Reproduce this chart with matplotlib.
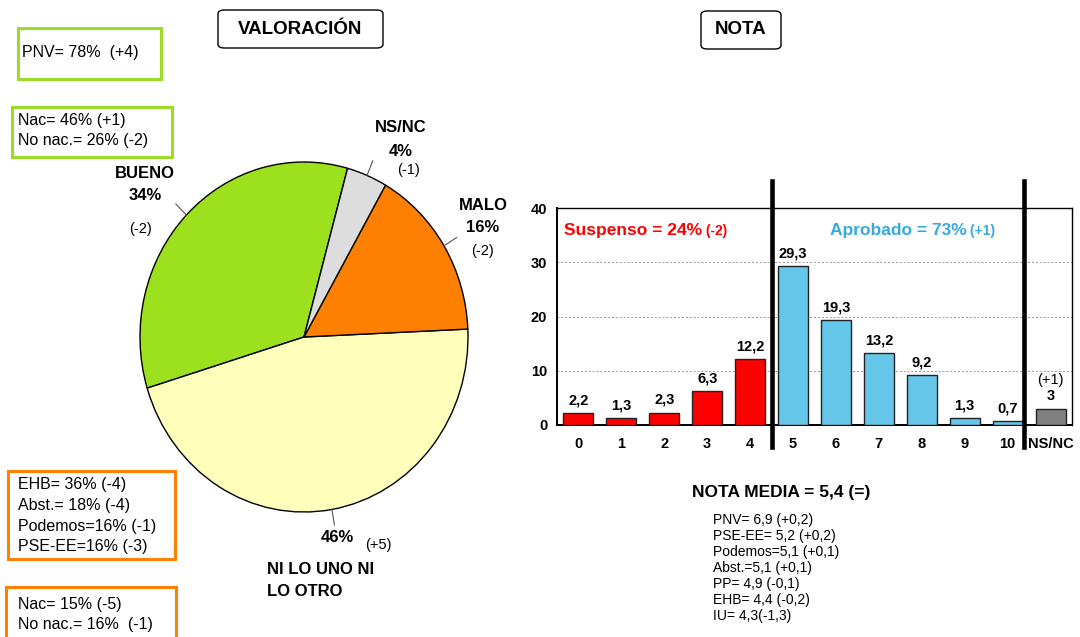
import matplotlib
matplotlib.use("Agg")
import matplotlib.pyplot as plt
from matplotlib.patches import Rectangle, FancyBboxPatch
import numpy as np

plt.rcParams["font.family"] = ["Liberation Sans", "DejaVu Sans"]

W, H = 1080, 637
INK = "#000000"
GREEN_BOX = "#9BDC28"
ORANGE_BOX = "#FF8000"
RED = "#FF0000"
BLUE_BAR = "#66C6EA"
BLUE_TXT = "#36A9DE"
GREY_BAR = "#808080"

# ---------------------------------------------------------------- data
pie_labels = ["BUENO", "NI LO UNO NI\nLO OTRO", "MALO", "NS/NC"]
pie_values = [34, 46, 16, 4]
pie_changes = ["(-2)", "(+5)", "(-2)", "(-1)"]
pie_colors = ["#9DE01E", "#FFFFBB", "#FF8000", "#DDDDDD"]

note_cats = ["0", "1", "2", "3", "4", "5", "6", "7", "8", "9", "10", "NS/NC"]
note_vals = [2.2, 1.3, 2.3, 6.3, 12.2, 29.3, 19.3, 13.2, 9.2, 1.3, 0.7, 3]
nsnc_change = "(+1)"

media_lines = ["PNV= 6,9 (+0,2)", "PSE-EE= 5,2 (+0,2)", "Podemos=5,1 (+0,1)",
               "Abst.=5,1 (+0,1)", "PP= 4,9 (-0,1)", "EHB= 4,4 (-0,2)", "IU= 4,3(-1,3)"]

box_pnv = ["PNV= 78%  (+4)"]
box_good = ["Nac= 46% (+1)", "No nac.= 26% (-2)"]
box_bad_party = ["EHB= 36% (-4)", "Abst.= 18% (-4)", "Podemos=16% (-1)", "PSE-EE=16% (-3)"]
box_bad = ["Nac= 15% (-5)", "No nac.= 16%  (-1)"]


def fx(x):
    return x / W


def fy(y):
    return 1 - y / H


fig = plt.figure(figsize=(W / 100, H / 100), dpi=100)
fig.patch.set_facecolor("white")


def frame(x0, y0, x1, y1, colour, lw=2.2):
    fig.add_artist(Rectangle((fx(x0), fy(y1)), fx(x1 - x0), (y1 - y0) / H,
                             transform=fig.transFigure, fill=False,
                             edgecolor=colour, linewidth=lw))


def title_box(x0, y0, x1, y1, txt):
    fig.add_artist(FancyBboxPatch((fx(x0), fy(y1)), fx(x1 - x0), (y1 - y0) / H,
                                  boxstyle="round,pad=0,rounding_size=0.006",
                                  transform=fig.transFigure, fill=False,
                                  edgecolor=INK, linewidth=1.0))
    fig.text(fx((x0 + x1) / 2), fy((y0 + y1) / 2), txt, fontsize=13.5,
             fontweight="bold", ha="center", va="center", color=INK)


def lines_text(x, y, lines, step, size=11.5):
    for i, s in enumerate(lines):
        fig.text(fx(x), fy(y + i * step), s, fontsize=size, va="center", color=INK)


# ---------------------------------------------------------------- left side boxes
frame(18, 28, 161, 79, GREEN_BOX)
lines_text(22, 53, box_pnv, 21)
frame(12, 107, 172, 157, GREEN_BOX)
lines_text(18, 120, box_good, 21)
frame(8, 471, 175, 559, ORANGE_BOX)
lines_text(18, 485, box_bad_party, 20.5)
frame(6, 587, 176, 660, ORANGE_BOX)
lines_text(18, 604, box_bad, 20.5)

title_box(218, 10, 383, 48, "VALORACIÓN")
title_box(701, 11, 781, 49, "NOTA")

# ---------------------------------------------------------------- pie
axp = fig.add_axes([fx(140), fy(512), fx(468 - 140), (512 - 162) / H])
wedges, _ = axp.pie(pie_values, colors=pie_colors, startangle=74.6, counterclock=True,
                    wedgeprops=dict(edgecolor=INK, linewidth=1.0))
axp.set_xlim(-1.0, 1.0); axp.set_ylim(-1.0, 1.0)
axp.set_aspect("auto"); axp.axis("off")
for w in wedges:
    a = np.deg2rad((w.theta1 + w.theta2) / 2)
    axp.plot([np.cos(a) * 1.0, np.cos(a) * 1.09], [np.sin(a) * 1.0, np.sin(a) * 1.09],
             color="#555555", linewidth=0.8, clip_on=False)

# pie labels: name, percentage, change (pixel positions)
lab_pos = {
    0: dict(name=(145, 173), pct=(145, 195), chg=(140, 229)),
    2: dict(name=(483, 205), pct=(483, 227), chg=(482, 251)),
    3: dict(name=(401, 128), pct=(401, 151), chg=(408, 170)),
}
for i, p in lab_pos.items():
    fig.text(fx(p["name"][0]), fy(p["name"][1]), pie_labels[i], fontsize=12,
             fontweight="bold", ha="center", va="center")
    fig.text(fx(p["pct"][0]), fy(p["pct"][1]), f"{pie_values[i]}%", fontsize=12,
             fontweight="bold", ha="center", va="center")
    fig.text(fx(p["chg"][0]), fy(p["chg"][1]), pie_changes[i], fontsize=10.5,
             ha="center", va="center")
fig.text(fx(337), fy(538), f"{pie_values[1]}%", fontsize=12, fontweight="bold",
         ha="center", va="center")
fig.text(fx(378), fy(545), pie_changes[1], fontsize=10.5, ha="center", va="center")
fig.text(fx(267), fy(569), pie_labels[1].split("\n")[0], fontsize=12,
         fontweight="bold", ha="left", va="center")
fig.text(fx(267), fy(591), pie_labels[1].split("\n")[1], fontsize=12,
         fontweight="bold", ha="left", va="center")

# ---------------------------------------------------------------- bar chart
axb = fig.add_axes([fx(557), fy(425), fx(1072 - 557), 217 / H])
x = np.arange(len(note_cats))
colours = [RED] * 5 + [BLUE_BAR] * 6 + [GREY_BAR]
axb.bar(x, note_vals, width=0.7, color=colours, edgecolor="#222222", linewidth=1.0, zorder=3)
axb.set_xlim(-0.5, 11.5)
axb.set_ylim(0, 40)
axb.set_yticks([0, 10, 20, 30, 40])
axb.set_xticks(x)
axb.set_xticklabels(note_cats)
axb.tick_params(axis="both", length=0, labelsize=10.5)
axb.tick_params(axis="x", pad=9)
axb.tick_params(axis="y", pad=7)
for lab in axb.get_xticklabels() + axb.get_yticklabels():
    lab.set_fontweight("bold")
axb.yaxis.grid(True, linestyle=(0, (2, 2)), color="#999999", linewidth=0.7, zorder=0)
for s in axb.spines.values():
    s.set_linewidth(1.0)
axb.spines["bottom"].set_linewidth(1.4)
axb.spines["left"].set_linewidth(1.4)

for xi, v in zip(x[:-1], note_vals[:-1]):
    axb.annotate(f"{v:.1f}".replace(".", ","), (xi, v), xytext=(0, 4),
                 textcoords="offset points", ha="center", va="bottom",
                 fontsize=10.5, fontweight="bold")
axb.annotate(f"{note_vals[-1]:g}", (x[-1], note_vals[-1]), xytext=(0, 4),
             textcoords="offset points", ha="center", va="bottom",
             fontsize=10.5, fontweight="bold")
axb.annotate(nsnc_change, (x[-1], note_vals[-1]), xytext=(0, 16),
             textcoords="offset points", ha="center", va="bottom", fontsize=10.5)

for xv in (4.5, 10.37):
    axb.axvline(xv, ymin=-0.101, ymax=1.124, color=INK, linewidth=3.3,
                clip_on=False, zorder=5)

t1 = axb.text(-0.33, 35.8, "Suspenso = 24%", fontsize=12.5, fontweight="bold",
              color=RED, va="center", ha="left")
axb.annotate(" (-2)", xy=(1, 0.5), xycoords=t1, va="center", ha="left",
             fontsize=10, fontweight="bold", color=RED)
t2 = axb.text(5.85, 35.8, "Aprobado = 73%", fontsize=12.5, fontweight="bold",
              color=BLUE_TXT, va="center", ha="left")
axb.annotate(" (+1)", xy=(1, 0.5), xycoords=t2, va="center", ha="left",
             fontsize=10, fontweight="bold", color=BLUE_TXT)

# ---------------------------------------------------------------- nota media
fig.text(fx(692), fy(492), "NOTA MEDIA = 5,4 (=)", fontsize=12.5, fontweight="bold",
         va="center", ha="left")
for i, s in enumerate(media_lines):
    fig.text(fx(713), fy(520 + i * 16), s, fontsize=10, va="center", ha="left")

fig.savefig("out.png", dpi=100, facecolor="white")
